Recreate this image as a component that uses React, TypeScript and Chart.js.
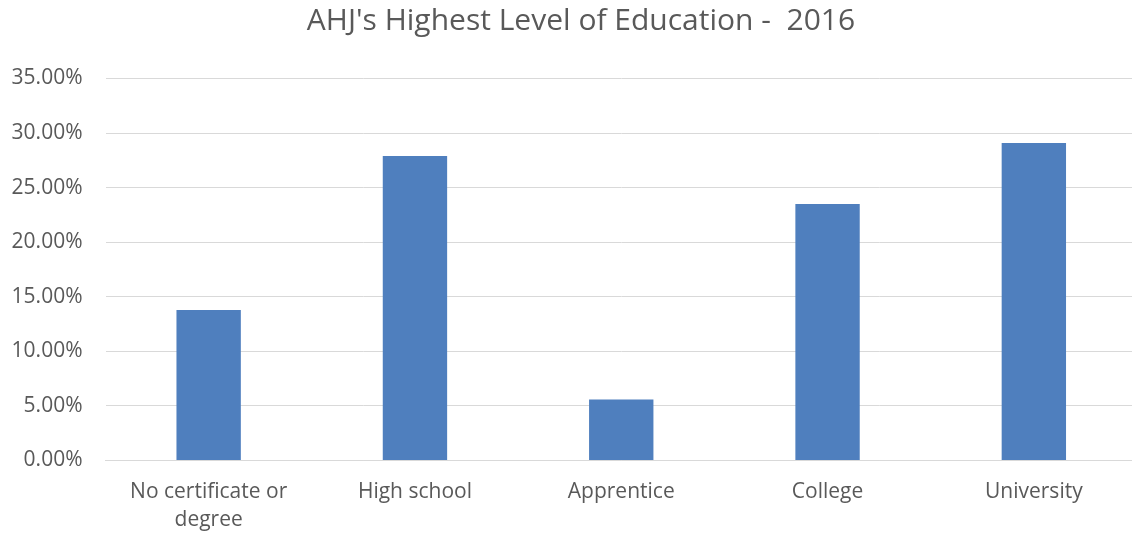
import React, { useEffect, useRef } from "react";
import { Chart, registerables } from "chart.js";

Chart.register(...registerables);

const titleText = "AHJ's Highest Level of Education -  2016";
const categories: (string | string[])[] = [
  ["No certificate or", "degree"],
  "High school",
  "Apprentice",
  "College",
  "University",
];
const shares = [13.8, 27.9, 5.6, 23.5, 29.1];
const yMin = 0;
const yMax = 35;
const yStep = 5;

const FONT = "'Open Sans', sans-serif";
const TEXT = "#595959";

const titleShift = {
  id: "titleShift",
  afterLayout(chart: any) {
    const tb = chart.titleBlock;
    if (tb) {
      tb.left = 25;
      tb.right = 1137;
    }
  },
};

export default function App() {
  const ref = useRef<HTMLCanvasElement | null>(null);
  useEffect(() => {
    if (!ref.current) return;
    const chart = new Chart(ref.current, {
      type: "bar",
      data: {
        labels: categories,
        datasets: [
          {
            label: "Share",
            data: shares,
            backgroundColor: "#4F7FBE",
            borderWidth: 0,
            categoryPercentage: 1,
            barPercentage: 0.312,
          },
        ],
      },
      plugins: [titleShift],
      options: {
        animation: false,
        responsive: false,
        maintainAspectRatio: false,
        layout: { padding: { left: 0, right: 0, top: 0, bottom: 0 } },
        plugins: {
          legend: { display: false },
          tooltip: { enabled: false },
          title: {
            display: true,
            text: titleText,
            color: TEXT,
            font: { family: FONT, size: 30, weight: "normal", lineHeight: 1.2 },
            padding: { top: 3.5, bottom: 39 },
          },
        },
        scales: {
          x: {
            grid: { display: false },
            border: { display: true, color: "#D9D9D9", width: 1 },
            ticks: {
              color: TEXT,
              font: { family: FONT, size: 21, lineHeight: 1.32 },
              padding: 10,
              maxRotation: 0,
              autoSkip: false,
            },
            afterFit: (scale: any) => {
              scale.height = 74.5;
            },
          },
          y: {
            min: yMin,
            max: yMax,
            grid: { color: "#D9D9D9", lineWidth: 1, drawTicks: false },
            border: { display: false },
            ticks: {
              stepSize: yStep,
              color: TEXT,
              font: { family: FONT, size: 21 },
              padding: 23,
              callback: (v: any) => Number(v).toFixed(2) + "%",
            },
            afterFit: (scale: any) => {
              scale.width = 105.5;
            },
          },
        },
      },
    });
    return () => chart.destroy();
  }, []);
  return (
    <div style={{ position: "fixed", left: 0, top: 0, width: 1137, height: 535, background: "#fff" }}>
      <canvas ref={ref} width={1137} height={535} style={{ width: 1137, height: 535, display: "block" }} />
    </div>
  );
}
